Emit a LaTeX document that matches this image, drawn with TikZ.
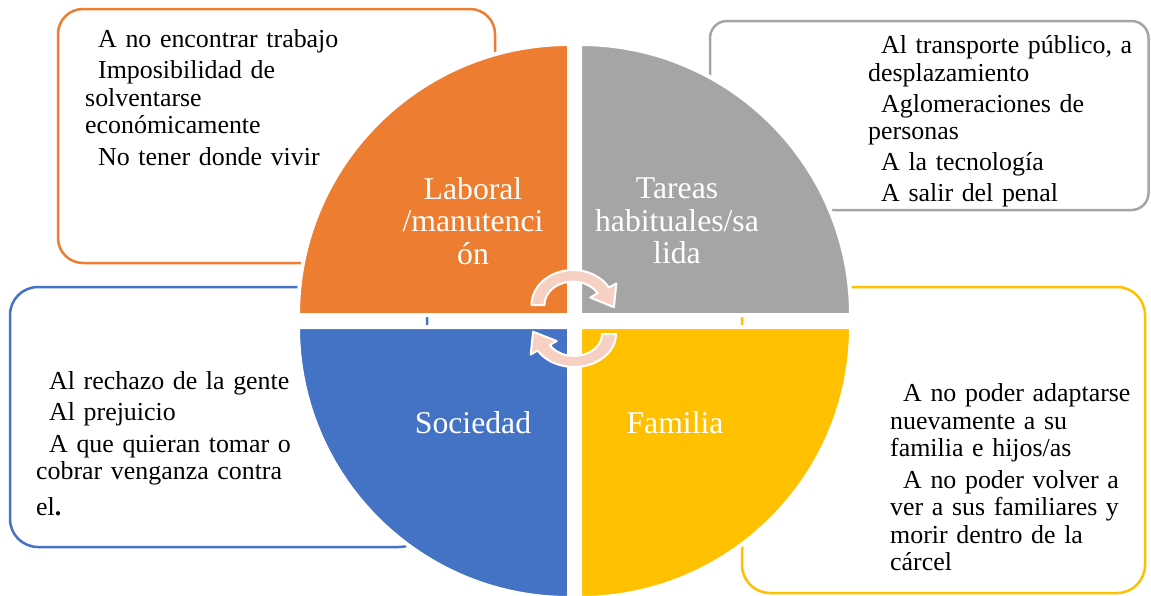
\documentclass[tikz,border=0pt]{standalone}
\usepackage{fontspec}
\setmainfont{Liberation Serif}
\usetikzlibrary{calc}

\definecolor{naranja}{HTML}{ED7D31}
\definecolor{gris}{HTML}{A5A5A5}
\definecolor{azul}{HTML}{4472C4}
\definecolor{oro}{HTML}{FFC000}
\definecolor{rosa}{HTML}{F7D0C4}
\newcommand\sangria{\hspace*{13pt}}

\begin{document}
\begin{tikzpicture}[x=1pt,y=-1pt,
    caja/.style={line width=2.5pt,rounded corners=#1},
    lista/.style={anchor=base west,inner sep=0pt,text width=300pt,align=left,
      font=\fontsize{25.9}{27.5}\selectfont},
    cuarto/.style={draw=white,line width=4pt},
    rotulo/.style={text=white,align=center,inner sep=0pt,
      font=\fontsize{31.7}{32.5}\selectfont},
    giro/.style={fill=rosa,draw=white,line width=2pt,line join=round}]
  \useasboundingbox (0,0) rectangle (1151,595);

  % Draw the four boxes behind the circle
  \draw[caja=25pt,naranja] (58,9) rectangle (495,263);
  \draw[caja=17pt,gris] (710,21) rectangle (1148.5,210);
  \draw[caja=28pt,azul] (10,287) rectangle (427,547);
  \draw[caja=28pt,oro] (742,287) rectangle (1145,593);

  \node[lista] (listalaboral) at (85,47) {\sangria A no encontrar trabajo\\[4pt]
    \sangria Imposibilidad de\\solventarse\\económicamente\\[4pt]
    \sangria No tener donde vivir};
  \node[lista] (listatareas) at (868,53.5) {\sangria Al transporte público, a\\
    desplazamiento\\[3.5pt]
    \sangria Aglomeraciones de\\personas\\[3.5pt]
    \sangria A la tecnología\\[3.5pt]
    \sangria A salir del penal};
  \node[lista] (listasociedad) at (36,389) {\sangria Al rechazo de la gente\\[4pt]
    \sangria Al prejuicio\\[4pt]
    \sangria A que quieran tomar o\\cobrar venganza contra\\[8pt]
    el\textbf{.}};
  \node[lista] (listafamilia) at (890,401.5) {\sangria A no poder adaptarse\\
    nuevamente a su\\familia e hijos/as\\[4pt]
    \sangria A no poder volver a\\ver a sus familiares y\\morir dentro de la\\
    cárcel};

  % Draw the quarters of the circle
  \filldraw[cuarto,fill=naranja] (569,315) -- (298,315)
    arc[start angle=180,end angle=270,radius=271] -- cycle;
  \filldraw[cuarto,fill=gris] (580,315) -- (580,44)
    arc[start angle=270,end angle=360,radius=271] -- cycle;
  \filldraw[cuarto,fill=oro] (580,327) -- (851,327)
    arc[start angle=0,end angle=90,radius=271] -- cycle;
  \filldraw[cuarto,fill=azul] (569,327) -- (569,598)
    arc[start angle=90,end angle=180,radius=271] -- cycle;

  \node[rotulo] (laboral) at (473,221) {Laboral\\/manutenci\\ón};
  \node[rotulo] (tareas) at (677,221) {Tareas\\habituales/sa\\lida};
  \node[rotulo] (sociedad) at (473,423) {Sociedad};
  \node[rotulo] (familia) at (675,423) {Familia};

  % Draw the two turning arrows
  \coordinate (c1) at (573,305);
  \coordinate (c2) at (574,334);
  \filldraw[giro] ($(c1)+(180:41.5 and 35)$)
    arc[start angle=180,end angle=330,x radius=41.5,y radius=35]
    -- ($(c1)+(330:50 and 43)$) -- ($(c1)+(4:41 and 32)$)
    -- ($(c1)+(330:20 and 15)$) -- ($(c1)+(330:28.5 and 23.5)$)
    arc[start angle=330,end angle=180,x radius=28.5,y radius=23.5] -- cycle;
  \filldraw[giro] ($(c2)+(0:42 and 33)$)
    arc[start angle=0,end angle=150,x radius=42,y radius=33]
    -- ($(c2)+(150:50 and 41)$) -- ($(c2)+(184:41 and 32)$)
    -- ($(c2)+(150:20 and 14)$) -- ($(c2)+(150:28 and 22)$)
    arc[start angle=150,end angle=0,x radius=28,y radius=22] -- cycle;
\end{tikzpicture}
\end{document}
